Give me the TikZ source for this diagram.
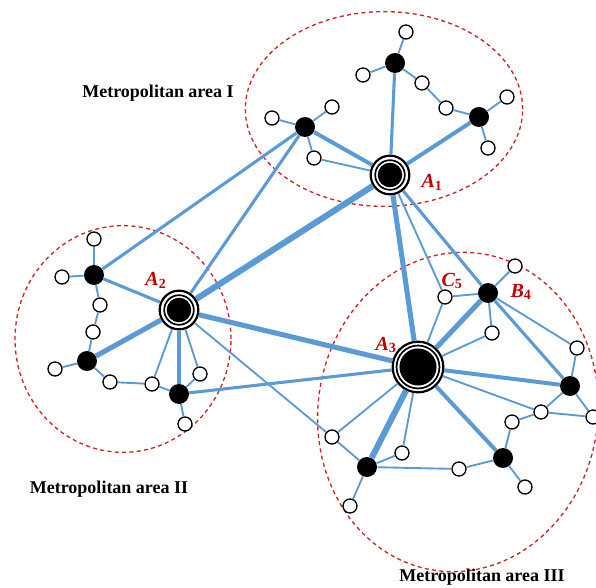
\documentclass[tikz,border=0pt]{standalone}
\usepackage{fontspec}
\setmainfont{Liberation Serif}
\usepackage{tikz}
\usetikzlibrary{positioning}

\definecolor{linkblue}{RGB}{91,155,213}
\definecolor{areared}{RGB}{205,35,35}
\definecolor{labred}{RGB}{192,0,0}

\begin{document}
\begin{tikzpicture}[
  x=0.75pt, y=-0.75pt,
  hub/.style n args={3}{circle, draw, line width=1.65pt, fill=white, inner sep=0pt,
    minimum size=#1, path picture={
      \fill[black] (path picture bounding box.center) circle (#2);
      \draw[black, line width=1.3pt] (path picture bounding box.center) circle (#3);}},
  station/.style={circle, fill=black, minimum size=15pt, inner sep=0pt},
  user/.style={circle, draw, fill=white, line width=1pt, minimum size=10.5pt, inner sep=0pt},
  link/.style={draw=linkblue, line width=#1}, link/.default=1.4pt,
  area/.style={draw=areared, line width=1pt, dash pattern=on 3pt off 2.5pt},
  areaname/.style={font=\fontsize{13.5}{16}\selectfont\bfseries},
  hubname/.style={text=labred, font=\fontsize{15}{17}\selectfont\bfseries\itshape, inner sep=0pt}
]
\useasboundingbox (0,0) rectangle (596,588);

% metropolitan areas
\draw[area] (384,109) ellipse [x radius=104pt, y radius=73pt];
\draw[area] (123,339) ellipse [x radius=81pt, y radius=85pt];
\draw[area] (458,412) ellipse [x radius=105pt, y radius=120pt, rotate=-8];

\node[areaname] (nameI)   at (158,93)  {Metropolitan area I};
\node[areaname] (nameII)  at (109,489) {Metropolitan area II};
\node[areaname] (nameIII) at (482,577) {Metropolitan area III};

% hubs
\node[hub={29pt}{9.2pt}{11.1pt}]  (A1) at (390,175) {};
\node[hub={29pt}{9.2pt}{11.1pt}]  (A2) at (179,310) {};
\node[hub={38pt}{13.9pt}{16.1pt}] (A3) at (418,367) {};

% area I
\node[station] (p1) at (395,63)  {};
\node[station] (p2) at (305,127) {};
\node[station] (p3) at (479,117) {};
\node[user] (q1) at (406,32)  {};
\node[user] (q2) at (363,75)  {};
\node[user] (q3) at (422,83)  {};
\node[user] (q4) at (446,108) {};
\node[user] (q5) at (507,97)  {};
\node[user] (q6) at (488,148) {};
\node[user] (q7) at (272,118) {};
\node[user] (q8) at (332,107) {};
\node[user] (q9) at (314,158) {};

% area II
\node[station] (p4) at (94,275)  {};
\node[station] (p5) at (87,361)  {};
\node[station] (p6) at (179,394) {};
\node[user] (q10) at (94,239)  {};
\node[user] (q11) at (62,277)  {};
\node[user] (q12) at (100,305) {};
\node[user] (q13) at (93,332)  {};
\node[user] (q14) at (55,369)  {};
\node[user] (q15) at (110,382) {};
\node[user] (q16) at (152,384) {};
\node[user] (q17) at (200,374) {};
\node[user] (q18) at (185,424) {};

% area III
\node[station] (B4) at (488,293) {};
\node[station] (p7) at (570,386) {};
\node[station] (p8) at (503,458) {};
\node[station] (p9) at (367,467) {};
\node[user] (C5)  at (445,297) {};
\node[user] (q19) at (515,266) {};
\node[user] (q20) at (492,333) {};
\node[user] (q21) at (577,348) {};
\node[user] (q22) at (541,412) {};
\node[user] (q23) at (593,417) {};
\node[user] (q24) at (512,422) {};
\node[user] (q25) at (332,437) {};
\node[user] (q26) at (402,453) {};
\node[user] (q27) at (459,469) {};
\node[user] (q28) at (525,487) {};
\node[user] (q29) at (350,506) {};

% labels
\node[hubname] (lA1) at (432,182) {A\textsubscript{\upshape 1}};
\node[hubname] (lA2) at (156,280) {A\textsubscript{\upshape 2}};
\node[hubname] (lA3) at (386,345) {A\textsubscript{\upshape 3}};
\node[hubname] (lC5) at (452,281) {C\textsubscript{\upshape 5}};
\node[hubname] (lB4) at (521,292) {B\textsubscript{\upshape 4}};

% links
\foreach \a/\b in {q1/p1, q2/p1, q3/p1, q3/q4, q4/p3, q5/p3, q6/p3,
    q7/p2, q8/p2, q9/p2, q9/A1, A1/C5,
    q10/p4, q11/p4, q12/p4, q12/q13, q13/p5, q14/p5, q15/p5, q15/q16,
    q16/p6, q16/A2, q17/p6, q17/A2, q18/p6, A2/q25,
    C5/A3, C5/B4, q19/B4, q20/B4, q20/A3, q21/B4, q21/p7, q22/A3, q22/p7,
    q22/q23, q23/p7, q22/q24, q24/p8, q25/A3, q25/p9, q26/A3, q26/p9,
    q27/p9, q27/p8, q28/p8, q29/p9}
  \draw[link] (\a) -- (\b);
\foreach \a/\b in {A1/p1, A1/B4, p2/A2, p2/p4, A2/p4, p6/A3, B4/p7}
  \draw[link=2.3pt] (\a) -- (\b);
\foreach \a/\b in {A1/p2, A1/p3, A2/p6, A3/p7, A3/p8}
  \draw[link=3pt] (\a) -- (\b);
\foreach \a/\b in {A1/A3, A2/A3, A3/B4, A2/p5}
  \draw[link=3.8pt] (\a) -- (\b);
\foreach \a/\b in {A1/A2, A3/p9}
  \draw[link=4.6pt] (\a) -- (\b);
\end{tikzpicture}
\end{document}
